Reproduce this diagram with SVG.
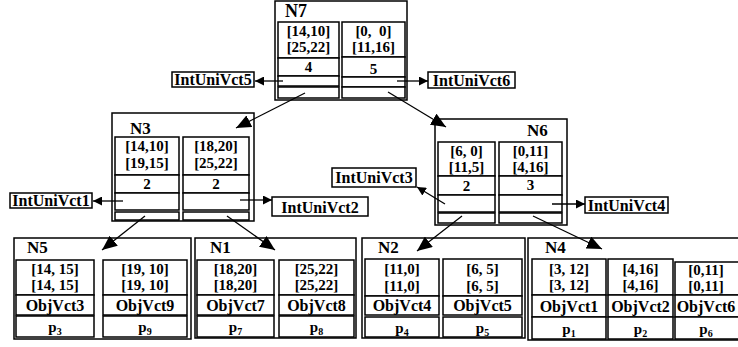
<svg xmlns="http://www.w3.org/2000/svg" width="738" height="347" viewBox="0 0 738 347">
<defs>
<style>
.box{fill:none;stroke:#000;stroke-width:1.5}
.cell{fill:#fff;stroke:#000;stroke-width:1.5}
.t{font-family:"Liberation Serif","Times New Roman",serif;font-weight:bold;fill:#000}
.c{font-size:15px;text-anchor:middle}
.ttl{font-size:17px}
.ov{font-size:16px;text-anchor:middle}
.lbl{font-size:16px;text-anchor:middle}
.conn{stroke:#000;stroke-width:1.3;fill:none}
.big{marker-end:url(#mb)}
.sm{marker-end:url(#ms)}
</style>
<marker id="mb" markerUnits="userSpaceOnUse" markerWidth="15" markerHeight="13" refX="15" refY="6.5" orient="auto"><path d="M0,0 L15,6.5 L0,13 z" fill="#000"/></marker>
<marker id="ms" markerUnits="userSpaceOnUse" markerWidth="9" markerHeight="9" refX="9" refY="4.5" orient="auto"><path d="M0,0 L9,4.5 L0,9 z" fill="#000"/></marker>
</defs>
<rect width="738" height="347" fill="#fff"/>

<g id="N7">
<rect class="box" x="275" y="1" width="132" height="99"/>
<text class="t" x="285" y="17" font-size="18">N7</text>
<rect class="cell" x="278" y="22" width="61" height="36"/>
<rect class="cell" x="278" y="58" width="61" height="18"/>
<rect class="cell" x="278" y="76" width="61" height="10"/>
<rect class="cell" x="278" y="87" width="61" height="11"/>
<rect class="cell" x="342" y="22" width="63" height="35"/>
<rect class="cell" x="342" y="57" width="63" height="20"/>
<rect class="cell" x="342" y="77" width="63" height="10"/>
<rect class="cell" x="342" y="87" width="63" height="11"/>
<text class="t c" x="308.5" y="36">[14,10]</text>
<text class="t c" x="308.5" y="52">[25,22]</text>
<text class="t c" x="373.5" y="36" xml:space="preserve">[0,  0]</text>
<text class="t c" x="373.5" y="52">[11,16]</text>
<text class="t c" x="308.5" y="72">4</text>
<text class="t c" x="373.5" y="74">5</text>
</g>

<g id="IntUniVct5"><rect class="box" x="172" y="72" width="82" height="15"/><text class="t lbl" x="213" y="85">IntUniVct5</text></g>
<g id="IntUniVct6"><rect class="box" x="428" y="72" width="87" height="16"/><text class="t lbl" x="471.5" y="85.5" font-size="16.5">IntUniVct6</text></g>

<g id="N3">
<rect class="box" x="112" y="113" width="142" height="108"/>
<text class="t ttl" x="130" y="134">N3</text>
<rect class="cell" x="115" y="137" width="64" height="38"/>
<rect class="cell" x="115" y="175" width="64" height="18"/>
<rect class="cell" x="115" y="193" width="64" height="17"/>
<rect class="cell" x="115" y="212" width="64" height="8"/>
<rect class="cell" x="183" y="137" width="66" height="38"/>
<rect class="cell" x="183" y="175" width="66" height="18"/>
<rect class="cell" x="183" y="193" width="66" height="17"/>
<rect class="cell" x="183" y="212" width="66" height="8"/>
<text class="t c" x="147" y="151">[14,10]</text>
<text class="t c" x="147" y="168">[19,15]</text>
<text class="t c" x="216" y="151">[18,20]</text>
<text class="t c" x="216" y="168">[25,22]</text>
<text class="t c" x="147" y="189">2</text>
<text class="t c" x="216" y="189">2</text>
</g>

<g id="IntUniVct1"><rect class="box" x="10" y="193" width="82" height="15"/><text class="t lbl" x="51" y="206">IntUniVct1</text></g>
<g id="IntUniVct2"><rect class="box" x="272" y="197" width="96" height="19"/><text class="t lbl" x="320" y="213" font-size="18.5">IntUniVct2</text></g>

<g id="N6">
<rect class="box" x="435" y="119" width="132" height="106"/>
<text class="t ttl" x="527" y="136">N6</text>
<rect class="cell" x="438" y="142" width="57" height="34"/>
<rect class="cell" x="438" y="176" width="57" height="19"/>
<rect class="cell" x="438" y="195" width="57" height="17"/>
<rect class="cell" x="438" y="213" width="57" height="10"/>
<rect class="cell" x="499" y="142" width="63" height="34"/>
<rect class="cell" x="499" y="176" width="63" height="19"/>
<rect class="cell" x="499" y="195" width="63" height="17"/>
<rect class="cell" x="499" y="213" width="63" height="10"/>
<text class="t c" x="466.5" y="156">[6, 0]</text>
<text class="t c" x="466.5" y="172">[11,5]</text>
<text class="t c" x="530.5" y="156">[0,11]</text>
<text class="t c" x="530.5" y="172">[4,16]</text>
<text class="t c" x="466.5" y="191">2</text>
<text class="t c" x="530.5" y="190">3</text>
</g>

<g id="IntUniVct3"><rect class="box" x="332" y="168" width="84" height="19"/><text class="t lbl" x="374" y="183">IntUniVct3</text></g>
<g id="IntUniVct4"><rect class="box" x="585" y="197" width="83" height="16"/><text class="t lbl" x="626.5" y="210.5">IntUniVct4</text></g>

<g id="N5">
<rect class="box" x="14" y="238" width="177" height="101"/>
<text class="t ttl" x="27" y="253">N5</text>
<rect class="cell" x="16" y="260" width="78" height="35"/>
<rect class="cell" x="16" y="295" width="78" height="20"/>
<rect class="cell" x="16" y="316" width="78" height="21"/>
<rect class="cell" x="103" y="260" width="84" height="35"/>
<rect class="cell" x="103" y="295" width="84" height="20"/>
<rect class="cell" x="103" y="316" width="84" height="21"/>
<text class="t c" x="55" y="274">[14, 15]</text>
<text class="t c" x="55" y="290">[14, 15]</text>
<text class="t c" x="145" y="274">[19, 10]</text>
<text class="t c" x="145" y="290">[19, 10]</text>
<text class="t ov" x="55" y="311">ObjVct3</text>
<text class="t ov" x="145" y="311">ObjVct9</text>
<text class="t c" x="55" y="332">p<tspan font-size="10" dy="3">3</tspan></text>
<text class="t c" x="145" y="332">p<tspan font-size="10" dy="3">9</tspan></text>
</g>

<g id="N1">
<rect class="box" x="195" y="238" width="161" height="100"/>
<text class="t ttl" x="210" y="253">N1</text>
<rect class="cell" x="197" y="260" width="77" height="35"/>
<rect class="cell" x="197" y="295" width="77" height="20"/>
<rect class="cell" x="197" y="316" width="77" height="21"/>
<rect class="cell" x="279" y="260" width="75" height="35"/>
<rect class="cell" x="279" y="295" width="75" height="20"/>
<rect class="cell" x="279" y="316" width="75" height="21"/>
<text class="t c" x="235.5" y="274">[18,20]</text>
<text class="t c" x="235.5" y="290">[18,20]</text>
<text class="t c" x="316.5" y="274">[25,22]</text>
<text class="t c" x="316.5" y="290">[25,22]</text>
<text class="t ov" x="235.5" y="311">ObjVct7</text>
<text class="t ov" x="316.5" y="311">ObjVct8</text>
<text class="t c" x="235.5" y="332">p<tspan font-size="10" dy="3">7</tspan></text>
<text class="t c" x="316.5" y="332">p<tspan font-size="10" dy="3">8</tspan></text>
</g>

<g id="N2">
<rect class="box" x="362" y="238" width="163" height="100"/>
<text class="t ttl" x="378" y="253">N2</text>
<rect class="cell" x="365" y="259" width="74" height="37"/>
<rect class="cell" x="365" y="296" width="74" height="19"/>
<rect class="cell" x="365" y="317" width="74" height="20"/>
<rect class="cell" x="443" y="259" width="79" height="37"/>
<rect class="cell" x="443" y="296" width="79" height="19"/>
<rect class="cell" x="443" y="317" width="79" height="20"/>
<text class="t c" x="402" y="274">[11,0]</text>
<text class="t c" x="402" y="291">[11,0]</text>
<text class="t c" x="482.5" y="274">[6, 5]</text>
<text class="t c" x="482.5" y="291">[6, 5]</text>
<text class="t ov" x="402" y="311">ObjVct4</text>
<text class="t ov" x="482.5" y="311">ObjVct5</text>
<text class="t c" x="402" y="333">p<tspan font-size="10" dy="3">4</tspan></text>
<text class="t c" x="482.5" y="333">p<tspan font-size="10" dy="3">5</tspan></text>
</g>

<g id="N4">
<rect class="box" x="528" y="238" width="215" height="102"/>
<text class="t ttl" x="545" y="253">N4</text>
<rect class="cell" x="532" y="259" width="74" height="36"/>
<rect class="cell" x="532" y="295" width="74" height="22"/>
<rect class="cell" x="532" y="317" width="74" height="22"/>
<rect class="cell" x="608" y="259" width="65" height="36"/>
<rect class="cell" x="608" y="295" width="65" height="22"/>
<rect class="cell" x="608" y="317" width="65" height="22"/>
<rect class="cell" x="675" y="262" width="70" height="33"/>
<rect class="cell" x="675" y="295" width="70" height="22"/>
<rect class="cell" x="675" y="317" width="70" height="22"/>
<text class="t c" x="569" y="274">[3, 12]</text>
<text class="t c" x="569" y="290">[3, 12]</text>
<text class="t c" x="640.5" y="274">[4,16]</text>
<text class="t c" x="640.5" y="290">[4,16]</text>
<text class="t c" x="706" y="275">[0,11]</text>
<text class="t c" x="706" y="290.5">[0,11]</text>
<text class="t ov" x="569" y="312">ObjVct1</text>
<text class="t ov" x="640.5" y="312">ObjVct2</text>
<text class="t ov" x="706" y="312">ObjVct6</text>
<text class="t c" x="569" y="334">p<tspan font-size="10" dy="3">1</tspan></text>
<text class="t c" x="640.5" y="334">p<tspan font-size="10" dy="3">2</tspan></text>
<text class="t c" x="706" y="334">p<tspan font-size="10" dy="3">6</tspan></text>
</g>

<g id="connectors">
<line class="conn big" x1="305" y1="93" x2="236" y2="128"/>
<line class="conn big" x1="388" y1="92" x2="446" y2="127"/>
<line class="conn sm" x1="283" y1="81" x2="255" y2="81"/>
<line class="conn sm" x1="397" y1="81" x2="428" y2="81"/>
<line class="conn big" x1="145" y1="216" x2="102" y2="250"/>
<line class="conn big" x1="227" y1="216" x2="275" y2="250"/>
<line class="conn sm" x1="123" y1="201" x2="93" y2="201"/>
<line class="conn sm" x1="240" y1="200" x2="272" y2="200"/>
<line class="conn big" x1="462" y1="216" x2="417" y2="251"/>
<line class="conn big" x1="533" y1="216" x2="602" y2="249"/>
<line class="conn sm" x1="445" y1="204" x2="417" y2="187"/>
<line class="conn sm" x1="552" y1="204" x2="585" y2="204"/>
</g>
</svg>
